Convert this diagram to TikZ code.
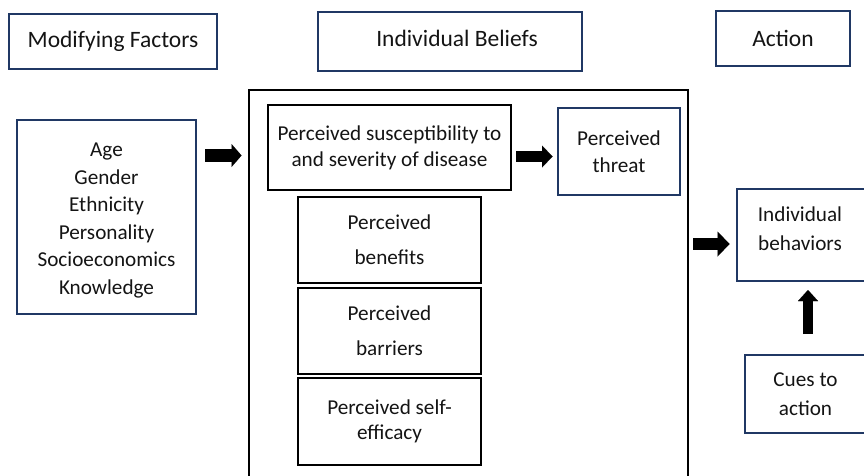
\documentclass[tikz,border=0pt]{standalone}
\usepackage{fontspec}
\setmainfont{Carlito}
\usetikzlibrary{arrows.meta,calc}
\definecolor{navy}{RGB}{32,56,100}
\definecolor{ink}{RGB}{20,20,20}
\begin{document}
\begin{tikzpicture}[x=1pt,y=-1pt,
  navybox/.style={draw=navy,line width=2pt,inner sep=0pt,align=center,text=ink},
  blackbox/.style={draw=black,line width=2.4pt,inner sep=0pt,align=center,text=ink},
  headtext/.style={font=\fontsize{23.5}{28}\selectfont},
  bodytext/.style={font=\fontsize{21.2}{#1}\selectfont},
  bodytext/.default=27.5,
  txt/.style={inner sep=0pt,align=center,text=ink},
  blockarrow/.style n args={3}{line width=#1,
    -{Triangle[width=#2,length=#3,line width=0.01pt]}}
]
\useasboundingbox (0,0) rectangle (864,475);
\clip (0,0) rectangle (864,475);

% column headings
\node[navybox,headtext,minimum width=208pt,minimum height=55pt] (mod) at (113,41.5) {Modifying Factors};
\node[navybox,minimum width=264pt,minimum height=59pt] (ib) at (450,41.5) {};
\node[txt,headtext] (ibtext) at ($(ib.center)+(7,-3.5)$) {Individual Beliefs};
\node[navybox,headtext,minimum width=134pt,minimum height=55pt] (act) at (783,38.5) {Action};

% modifying factors
\node[navybox,minimum width=179pt,minimum height=194pt] (list) at (106.5,217) {};
\node[txt,bodytext=27.6] (listtext) at ($(list.center)+(0,3.5)$)
  {Age\\Gender\\Ethnicity\\Personality\\Socioeconomics\\Knowledge};

% individual beliefs frame
\node[draw=black,line width=2.4pt,inner sep=0pt,minimum width=439pt,minimum height=400pt] (frame) at (468.5,290) {};

\node[blackbox,bodytext=26,minimum width=243pt,minimum height=85pt] (susc) at (389.5,147.5)
  {Perceived susceptibility to\\and severity of disease};
\node[navybox,bodytext=27,minimum width=122pt,minimum height=87pt] (threat) at (619,151.5)
  {Perceived\\threat};
\node[blackbox,bodytext=35,minimum width=183pt,minimum height=86pt] (ben) at (389.5,240)
  {Perceived\\benefits};
\node[blackbox,bodytext=35,minimum width=183pt,minimum height=86pt] (bar) at (389.5,331)
  {Perceived\\barriers};
\node[blackbox,bodytext=25,minimum width=183pt,minimum height=87pt] (eff) at (389.5,421.5)
  {Perceived self-\\efficacy};

% action
\node[navybox,minimum width=129pt,minimum height=92pt] (beh) at (801.5,235) {};
\node[txt,bodytext=29] (behtext) at ($(beh.center)+(-1.5,-6.5)$) {Individual\\behaviors};
\node[navybox,bodytext=29,minimum width=121pt,minimum height=78pt] (cues) at (805.5,394)
  {Cues to\\action};

% block arrows
\coordinate (a1s) at (205,155.5);
\coordinate (a1e) at (241.5,155.5);
\draw[blockarrow={13pt}{23pt}{10pt}] (a1s) -- (a1e);

\coordinate (a2s) at (516,156.5);
\coordinate (a2e) at (552.5,156.5);
\draw[blockarrow={11pt}{22pt}{10.5pt}] (a2s) -- (a2e);

\coordinate (a3s) at (693,244);
\coordinate (a3e) at (729.5,244);
\draw[blockarrow={12pt}{25pt}{12pt}] (a3s) -- (a3e);

\coordinate (a4s) at (808,334);
\coordinate (a4e) at (808,290);
\draw[blockarrow={10pt}{20pt}{11pt}] (a4s) -- (a4e);
\end{tikzpicture}
\end{document}
